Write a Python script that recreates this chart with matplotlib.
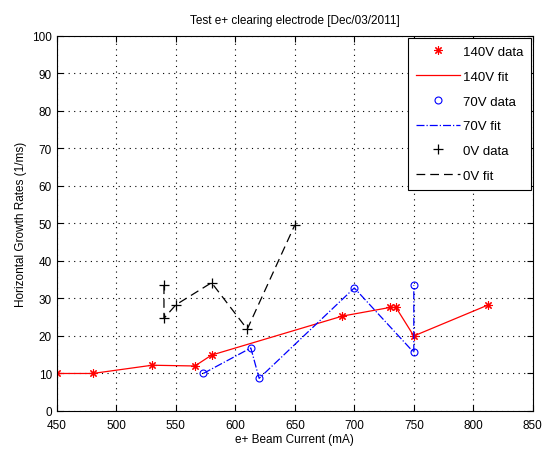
import numpy as np
import matplotlib
matplotlib.use('Agg')
import matplotlib.pyplot as plt

plt.rcParams['font.family'] = ['Liberation Sans', 'DejaVu Sans']

# 140V data (also fit line through same points)
I_140 = [450, 480, 530, 566, 580, 690, 730, 735, 750, 812]
G_140 = [10.0, 10.0, 12.2, 12.0, 14.9, 25.3, 27.6, 27.6, 20.0, 28.2]

# 70V data
I_70 = [573, 613, 620, 700, 750, 750]
G_70 = [10.0, 16.8, 8.7, 32.8, 15.6, 33.5]

# 0V data
I_0 = [540, 540, 550, 580, 610, 650]
G_0 = [33.5, 24.7, 28.3, 34.2, 21.8, 49.6]

fig = plt.figure(figsize=(5.47, 4.52), dpi=100)
ax = fig.add_axes([0.104, 0.0885, 0.87, 0.83])

ax.plot(I_140, G_140, marker=(8, 2, 0), linestyle='none', color='red',
        markersize=6, markeredgewidth=0.8, label='140V data')
ax.plot(I_140, G_140, '-', color='red', linewidth=0.9, label='140V fit')
ax.plot(I_70, G_70, 'o', color='blue', markerfacecolor='none', markersize=5,
        markeredgewidth=0.8, label='70V data')
ax.plot(I_70, G_70, '-.', color='blue', linewidth=0.9, label='70V fit')
ax.plot(I_0, G_0, '+', color='black', markersize=7, markeredgewidth=0.9, label='0V data')
ax.plot(I_0, G_0, '--', color='black', linewidth=0.9, dashes=(7, 4), label='0V fit')

ax.set_xlim(450, 850)
ax.set_ylim(0, 100)
ax.set_xticks(np.arange(450, 851, 50))
ax.set_yticks(np.arange(0, 101, 10))
ax.grid(True, linestyle=(0, (1, 4)), color='black', linewidth=0.8)
ax.tick_params(direction='in', top=True, right=True, labelsize=8.5, length=4)
ax.tick_params(axis='x', pad=6)
for s in ax.spines.values():
    s.set_linewidth(0.8)

ax.set_xlabel('e+ Beam Current (mA)', fontsize=8.5, labelpad=1)
ax.set_ylabel('Horizontal Growth Rates (1/ms)', fontsize=8.5)
ax.set_title('Test e+ clearing electrode [Dec/03/2011]', fontsize=8.5, pad=9)

leg = ax.legend(loc='upper right', fontsize=9.5, fancybox=False, framealpha=1,
                edgecolor='black', borderaxespad=0.15, handlelength=3.3,
                handletextpad=0.2, labelspacing=0.95, borderpad=0.6)
leg.get_frame().set_linewidth(0.8)

fig.savefig('out.png', dpi=100)
